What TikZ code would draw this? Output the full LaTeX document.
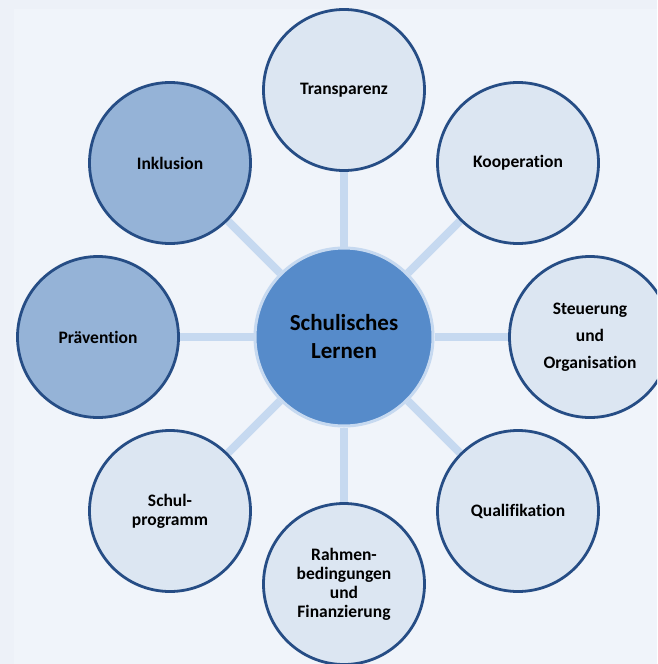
\documentclass[tikz,border=0pt]{standalone}
\usepackage{fontspec}
\setmainfont[Ligatures=NoCommon]{Carlito}
\usetikzlibrary{backgrounds}
\definecolor{pagebg}{HTML}{EDF1F8}
\definecolor{panelbg}{HTML}{F0F4FA}
\definecolor{hubfill}{HTML}{568BCA}
\definecolor{hubring}{HTML}{C6D9F0}
\definecolor{ringblue}{HTML}{264D85}
\definecolor{topicfill}{HTML}{DCE6F2}
\definecolor{topicdark}{HTML}{95B3D7}
\definecolor{spokeblue}{HTML}{C6D9F0}

\tikzset{
  topic/.style={circle, draw=ringblue, line width=2.8pt, fill=topicfill,
    minimum size=161pt, inner sep=0pt, align=center,
    font=\bfseries\fontsize{17.5}{19}\selectfont},
  hub/.style={circle, draw=hubring, line width=3pt, fill=hubfill,
    minimum size=178pt, inner sep=0pt, align=center,
    font=\bfseries\fontsize{23}{28}\selectfont},
  spoke/.style={draw=spokeblue, line width=8pt},
}

\begin{document}
\begin{tikzpicture}[x=1pt, y=-1pt]
   \useasboundingbox (0,0) rectangle (657,664);
   \clip (0,0) rectangle (657,664);
   \begin{scope}[on background layer]
     \fill[pagebg] (0,0) rectangle (657,664);
     \fill[panelbg] (14,9) rectangle (657,664);
   \end{scope}
   % centre
   \node[hub] (lernen) at (344,337) {Schulisches\\Lernen};
   % topics around it
   \node[topic] (transparenz) at (344,90) {Transparenz};
   \node[topic] (kooperation) at (518,163) {Kooperation};
   \node[topic, font=\bfseries\fontsize{17.5}{27}\selectfont] (steuerung) at (590,337) {Steuerung\\und\\Organisation};
   \node[topic] (qualifikation) at (518,511) {Qualifikation};
   \node[topic] (rahmen) at (344,584) {Rahmen-\\bedingungen\\und\\Finanzierung};
   \node[topic] (programm) at (170,511) {Schul-\\programm};
   \node[topic, fill=topicdark] (praevention) at (98,337) {Prävention};
   \node[topic, fill=topicdark] (inklusion) at (170,163) {Inklusion};
   \begin{scope}[on background layer]
     \foreach \t in {transparenz,kooperation,steuerung,qualifikation,rahmen,programm,praevention,inklusion}
       \draw[spoke] (lernen) -- (\t);
   \end{scope}
\end{tikzpicture}
\end{document}
